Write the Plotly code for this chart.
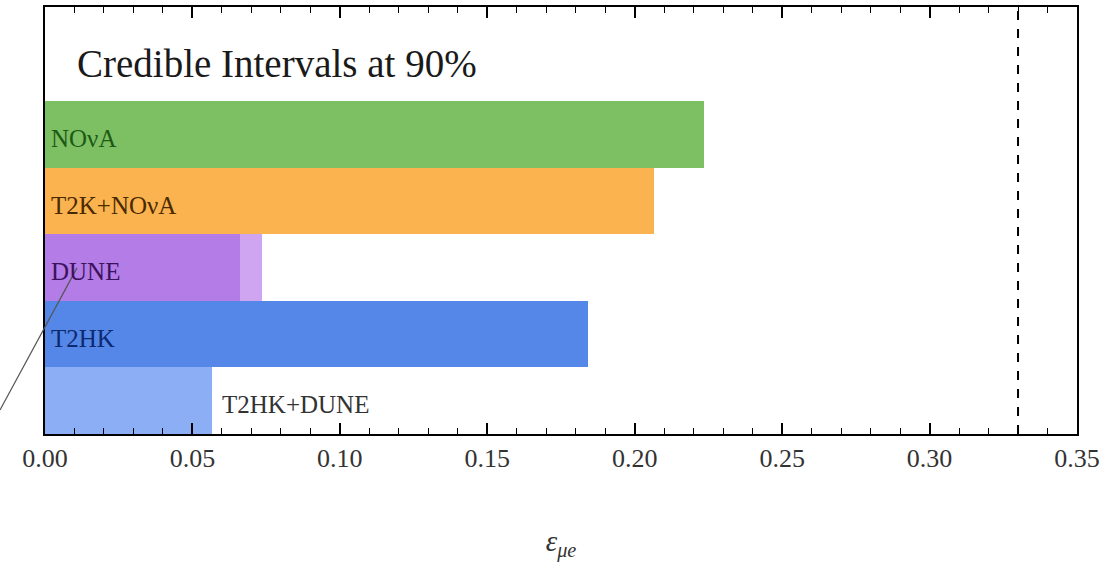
import plotly.graph_objects as go

# 90% credible upper limits on eps_mue for each experiment setup
experiments = ["NOνA", "T2K+NOνA", "DUNE", "T2HK", "T2HK+DUNE"]
upper_90 = [0.2235, 0.2065, 0.0661, 0.1843, 0.0566]
dune_extended = 0.0736          # lighter DUNE band beyond the main limit
reference_limit = 0.33          # dashed vertical bound

bar_colors = ["#7dbf63", "#fbb34f", "#b47ce6", "#5487e8", "#8caef5"]
label_colors = ["#1d5a14", "#4a2a00", "#3b1260", "#0c2a70", "#333333"]
dune_light = "#cfa5f2"

# bottom-to-top stacking: NOvA on top
ypos = [4, 3, 2, 1, 0]

SERIF = "Liberation Serif, Times New Roman, serif"

fig = go.Figure()

# light extension of the DUNE interval, drawn underneath
fig.add_trace(go.Bar(
    x=[dune_extended], y=[ypos[2]], base=0, orientation="h", width=1,
    marker=dict(color=dune_light, line=dict(width=0)),
    hoverinfo="skip", showlegend=False,
))

fig.add_trace(go.Bar(
    x=upper_90, y=ypos, base=0, orientation="h", width=1,
    marker=dict(color=bar_colors, line=dict(width=0)),
    showlegend=False,
))

fig.add_vline(x=reference_limit, line=dict(color="black", width=2, dash="dash"))

annotations = []
for i, name in enumerate(experiments):
    if name == "T2HK+DUNE":
        xt = upper_90[i] + 0.0027
    else:
        xt = 0.0015
    annotations.append(dict(
        x=xt, y=ypos[i], xref="x", yref="y", text=name, showarrow=False,
        xanchor="left", yanchor="middle", yshift=-4,
        font=dict(family=SERIF, size=25, color=label_colors[i]),
    ))

annotations.append(dict(
    x=0.0102, y=5.07, xref="x", yref="y", text="Credible Intervals at 90%",
    showarrow=False, xanchor="left", yanchor="middle",
    font=dict(family=SERIF, size=39, color="#1a1a1a"),
))

# leader line running from outside the frame up to the DUNE label
fig.add_shape(
    type="line", xref="paper", yref="paper",
    x0=-0.0436, y0=0.056, x1=0.031, y1=0.389,
    line=dict(color="#555555", width=1.2),
)

fig.update_layout(
    width=1109, height=569,
    margin=dict(l=45, r=32, t=5, b=135),
    paper_bgcolor="white", plot_bgcolor="white",
    barmode="overlay", bargap=0,
    annotations=annotations,
    xaxis=dict(
        range=[0, 0.35], dtick=0.05, tickformat=".2f",
        ticks="inside", ticklen=11, tickwidth=1.5, tickcolor="black",
        minor=dict(dtick=0.01, ticks="inside", ticklen=6, tickwidth=1.2, tickcolor="black"),
        showline=True, linecolor="black", linewidth=2, mirror="ticks",
        showgrid=False, zeroline=False,
        tickfont=dict(family=SERIF, size=26, color="#333333"),
        title=dict(text="<i>ε</i><sub><i>μe</i></sub>", standoff=58,
                   font=dict(family=SERIF, size=29, color="#333333")),
    ),
    yaxis=dict(
        range=[-0.5, 5.92], showticklabels=False, ticks="",
        showline=True, linecolor="black", linewidth=2, mirror=True,
        showgrid=False, zeroline=False,
    ),
)

fig.write_html("out.html")
